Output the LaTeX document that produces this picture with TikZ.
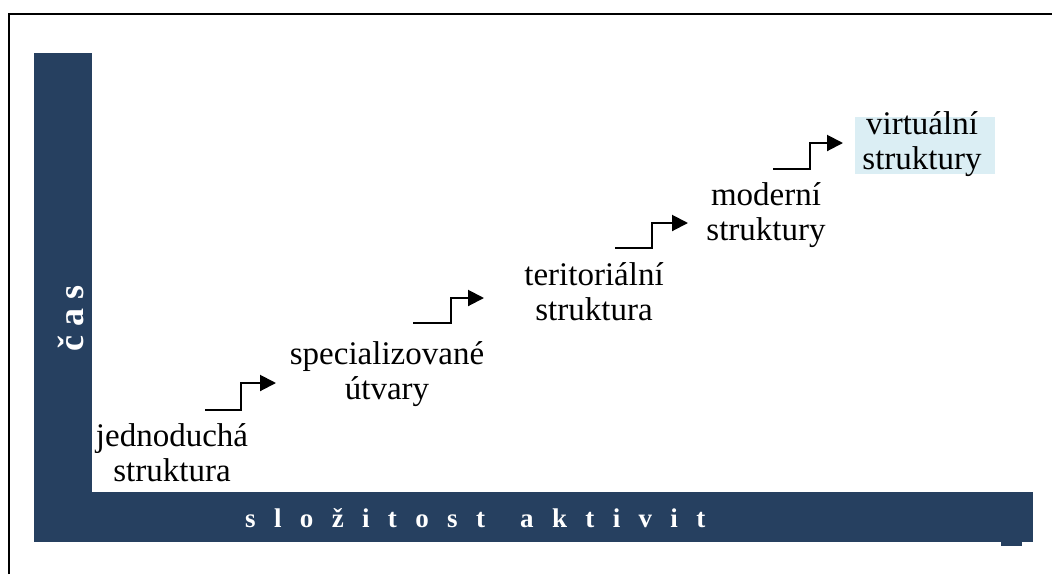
\documentclass[tikz,border=0pt]{standalone}
\usepackage{fontspec}
\setmainfont{Liberation Serif}
\usetikzlibrary{arrows.meta}
\definecolor{barblue}{HTML}{264060}
\definecolor{paleblue}{HTML}{DBEEF4}
\begin{document}
\begin{tikzpicture}[x=1pt,y=-1pt,
  stagelabel/.style={align=center,inner sep=0pt,font=\fontsize{33}{35}\selectfont},
  axislabel/.style={text=white,inner sep=0pt},
  steparrow/.style={line width=2pt,-{Triangle[length=16pt,width=16pt]}}]
  \useasboundingbox (0,0) rectangle (1052,574);
  % outer frame (open to the right and bottom)
  \draw[line width=2.5pt] (9,574) -- (9,14) -- (1052,14);
  % axes bars
  \fill[barblue] (34,53) rectangle (92,542);
  \fill[barblue] (34,492) rectangle (1033,542);
  \fill[barblue] (1001,542) rectangle (1022,546);
  \node[axislabel,rotate=90,font=\fontsize{36}{40}\selectfont\bfseries] (cas) at (71,318) {č a s};
  \node[axislabel,anchor=west,font=\fontsize{27}{30}\selectfont\bfseries\addfontfeature{LetterSpace=68}] (slozitost) at (245,518) {složitost\hspace{10pt} aktivit};
  % shading behind the last stage
  \fill[paleblue] (855,117) rectangle (995,174);
  % stages
  \node[stagelabel] (jedn) at (172,453) {jednoduchá\\struktura};
  \node[stagelabel] (spec) at (387,374) {specializované\\útvary};
  \node[stagelabel] (teri) at (594,292) {teritoriální\\struktura};
  \node[stagelabel] (mod) at (766,215) {moderní\\struktury};
  \node[stagelabel] (virt) at (922,144) {virtuální\\struktury};
  % step arrows between stages
  \coordinate (a1) at (205,410); \coordinate (b1) at (276,383);
  \coordinate (a2) at (413,323); \coordinate (b2) at (484,298);
  \coordinate (a3) at (615,248); \coordinate (b3) at (688,223);
  \coordinate (a4) at (773,169); \coordinate (b4) at (843,143);
  \draw[steparrow] (a1) -- ++(36,0) |- (b1);
  \draw[steparrow] (a2) -- ++(38,0) |- (b2);
  \draw[steparrow] (a3) -- ++(37,0) |- (b3);
  \draw[steparrow] (a4) -- ++(37,0) |- (b4);
\end{tikzpicture}
\end{document}
